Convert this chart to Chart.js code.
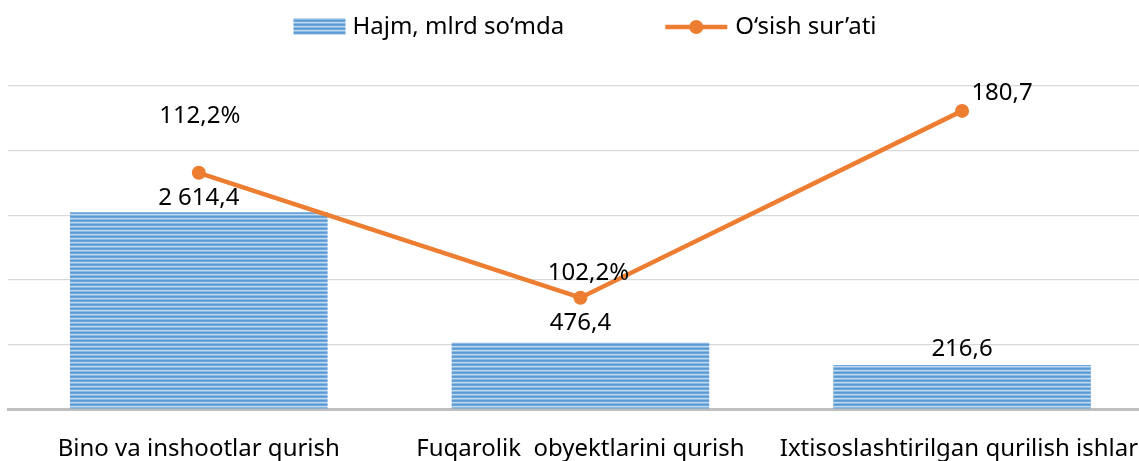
<!DOCTYPE html>
<html>
<head>
<meta charset="utf-8">
<script src="https://cdn.jsdelivr.net/npm/chart.js@4.4.1/dist/chart.umd.min.js"></script>
<style>
  html, body { margin: 0; padding: 0; background: #fff; overflow: hidden; }
  #wrap { width: 1139px; height: 461px; overflow: hidden; position: relative; }
  canvas { display: block; }
</style>
</head>
<body>
<div id="wrap"><canvas id="c" width="1172" height="490" style="width:1172px;height:490px"></canvas></div>
<script>
// ---- data ----
const categories = ['Bino va inshootlar qurish', 'Fuqarolik  obyektlarini qurish', 'Ixtisoslashtirilgan qurilish ishlari'];
const volumeName = 'Hajm, mlrd so‘mda';
const growthName = 'O‘sish sur’ati';
// heights as drawn in the picture (hidden axis 0–5000)
const volumeValues = [3045, 1030, 685];
const volumeLabels = ['2 614,4', '476,4', '216,6'];
const growthValues = [3657, 1725, 4615];
const growthLabels = ['112,2%', '102,2%', '180,7'];

const FONT = "'Noto Sans', 'Open Sans', sans-serif";
const ORANGE = '#ed7d31';

// striped fill pattern
function makeStripes() {
  const p = document.createElement('canvas');
  p.width = 4; p.height = 4;
  const g = p.getContext('2d');
  const rows = ['#5b9bd5', '#6ea5d9', '#c2daf0', '#8ab8e2'];
  rows.forEach((c, i) => { g.fillStyle = c; g.fillRect(0, i, 4, 1); });
  return g.createPattern(p, 'repeat');
}
const stripes = makeStripes();

const labelPlugin = {
  id: 'valueLabels',
  afterDatasetsDraw(chart, args, opts) {
    const ctx = chart.ctx;
    ctx.save();
    ctx.font = '24px ' + FONT;
    ctx.fillStyle = '#000';
    ctx.textAlign = 'center';
    ctx.textBaseline = 'middle';
    opts.sets.forEach(s => {
      const meta = chart.getDatasetMeta(s.dataset);
      meta.data.forEach((el, i) => {
        const o = s.offsets[i];
        ctx.fillText(s.labels[i], el.x + o[0], el.y + o[1]);
      });
    });
    ctx.restore();
  }
};

const legendPlugin = {
  id: 'customLegend',
  afterDraw(chart, args, opts) {
    const ctx = chart.ctx;
    ctx.save();
    ctx.font = '24px ' + FONT;
    ctx.textBaseline = 'middle';
    const y = opts.y;
    const barDs = chart.data.datasets.find(d => d.type === 'bar');
    const lineDs = chart.data.datasets.find(d => d.type === 'line');
    const w1 = ctx.measureText(barDs.label).width;
    const w2 = ctx.measureText(lineDs.label).width;
    const total = 52 + 7 + w1 + 101 + 62 + 8 + w2;
    let x = opts.center - total / 2;
    // bar swatch
    ctx.fillStyle = barDs.backgroundColor;
    ctx.fillRect(x, y - 9, 52, 17);
    x += 52 + 7;
    ctx.fillStyle = '#000';
    ctx.fillText(barDs.label, x, y);
    x += w1 + 101;
    // line swatch
    ctx.strokeStyle = lineDs.borderColor;
    ctx.lineWidth = 4.5;
    ctx.beginPath(); ctx.moveTo(x, y); ctx.lineTo(x + 62, y); ctx.stroke();
    ctx.fillStyle = lineDs.borderColor;
    ctx.beginPath(); ctx.arc(x + 31, y, 7, 0, Math.PI * 2); ctx.fill();
    x += 62 + 8;
    ctx.fillStyle = '#000';
    ctx.fillText(lineDs.label, x, y);
    ctx.restore();
  }
};

new Chart(document.getElementById('c'), {
  data: {
    labels: categories,
    datasets: [
      {
        type: 'line',
        label: growthName,
        data: growthValues,
        borderColor: ORANGE,
        backgroundColor: ORANGE,
        borderWidth: 4.5,
        pointRadius: 7,
        pointHoverRadius: 7,
        pointBackgroundColor: ORANGE,
        pointBorderWidth: 0,
        tension: 0,
        order: 0
      },
      {
        type: 'bar',
        label: volumeName,
        data: volumeValues,
        backgroundColor: stripes,
        borderWidth: 0,
        categoryPercentage: 1,
        barPercentage: 0.675,
        order: 1
      }
    ]
  },
  options: {
    responsive: false,
    animation: false,
    layout: { padding: { left: 8, right: 10, top: 86, bottom: 0 } },
    plugins: {
      legend: { display: false },
      tooltip: { enabled: false },
      valueLabels: {
        sets: [
          { dataset: 1, labels: volumeLabels, offsets: [[0, -14], [0, -19], [0, -16]] },
          { dataset: 0, labels: growthLabels, offsets: [[1, -57], [8, -25], [40, -18]] }
        ]
      },
      customLegend: { y: 27, center: 585 }
    },
    scales: {
      x: {
        grid: { display: false, drawTicks: false },
        border: { display: true, color: '#bfbfbf', width: 3 },
        ticks: { font: { family: FONT, size: 24 }, color: '#000', padding: 26, maxRotation: 0, autoSkip: false }
      },
      y: {
        min: 0, max: 5000,
        ticks: { display: false, stepSize: 1000 },
        grid: { color: '#d9d9d9', lineWidth: 1.3, drawTicks: false },
        border: { display: false }
      }
    }
  },
  plugins: [labelPlugin, legendPlugin]
});
</script>
</body>
</html>
